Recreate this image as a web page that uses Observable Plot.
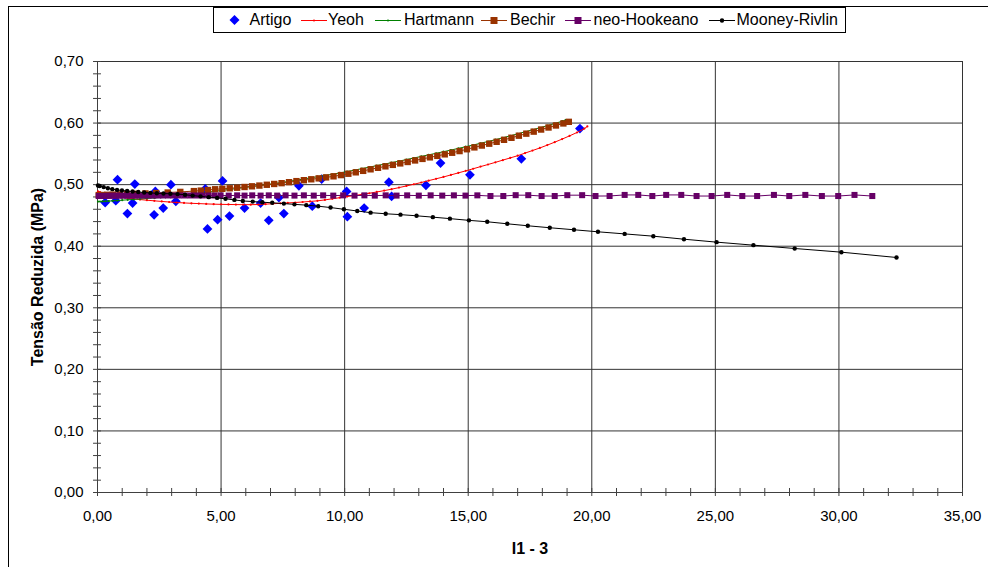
<!DOCTYPE html>
<html><head><meta charset="utf-8">
<script src="https://cdn.jsdelivr.net/npm/d3@7"></script>
<script src="https://cdn.jsdelivr.net/npm/@observablehq/plot@0.6"></script>
<style>
html,body{margin:0;padding:0;background:#fff;overflow:hidden;}
#wrap{position:relative;width:988px;height:567px;overflow:hidden;font-family:"Liberation Sans",Arial,sans-serif;background:#fff;}
#frame{position:absolute;left:8px;top:6px;width:1100px;height:700px;border:1px solid #000;box-sizing:border-box;}
#chart{position:absolute;left:0;top:0;}
#legend{position:absolute;left:213px;top:7px;width:633px;height:26px;border:1px solid #000;box-sizing:border-box;background:#fff;}
.item{position:absolute;top:0;height:24px;line-height:24px;font-size:16px;color:#000;white-space:nowrap;}
.sw{position:absolute;top:0;}
</style></head>
<body><div id="wrap"><div id="frame"></div><div id="chart"></div><div id="legend"></div></div>
<script>
// ---------- data ----------
const seriesNames = ["Artigo", "Yeoh", "Hartmann", "Bechir", "neo-Hookeano", "Mooney-Rivlin"];
const seriesColors = ["#0000ff", "#ff0000", "#008000", "#993300", "#660066", "#000000"];
const xTitle = "I1 - 3";
const yTitle = "Tensão Reduzida (MPa)";
const xTicks = [0, 5, 10, 15, 20, 25, 30, 35];
const yTicks = [0, 0.1, 0.2, 0.3, 0.4, 0.5, 0.6, 0.7];

const artigoX = [0.31, 0.74, 0.81, 1.21, 1.42, 1.51, 2.29, 2.34, 2.66, 2.97, 3.17, 4.36, 4.45, 4.86, 5.06, 5.34, 5.95, 6.60, 6.93, 7.34, 7.54, 8.15, 8.69, 9.07, 10.08, 10.11, 10.79, 11.79, 11.90, 13.29, 13.88, 15.07, 17.15, 19.52];
const artigoY = [0.471, 0.474, 0.508, 0.453, 0.470, 0.501, 0.451, 0.489, 0.462, 0.500, 0.473, 0.493, 0.428, 0.443, 0.506, 0.449, 0.462, 0.470, 0.442, 0.479, 0.453, 0.498, 0.465, 0.509, 0.489, 0.448, 0.462, 0.504, 0.481, 0.499, 0.535, 0.516, 0.542, 0.591];

const yeohX = [0.02, 0.10, 0.20, 0.32, 0.46, 0.62, 0.80, 1.00, 1.22, 1.46, 1.72, 2.00, 2.30, 2.60, 2.90, 3.20, 3.50, 3.80, 4.10, 4.40, 4.70, 5.00, 5.30, 5.60, 5.90, 6.20, 6.50, 6.80, 7.10, 7.40, 7.70, 8.00, 8.30, 8.60, 8.90, 9.20, 9.50, 9.80, 10.10, 10.40, 10.70, 11.00, 11.30, 11.60, 11.90, 12.20, 12.50, 12.80, 13.10, 13.40, 13.70, 14.00, 14.30, 14.60, 14.90, 15.20, 15.50, 15.80, 16.10, 16.40, 16.70, 17.00, 17.30, 17.60, 17.90, 18.20, 18.50, 18.80, 19.10, 19.40, 19.70, 19.82];
const yeohY = [0.4890, 0.4878, 0.4864, 0.4850, 0.4836, 0.4822, 0.4808, 0.4795, 0.4782, 0.4770, 0.4758, 0.4747, 0.4737, 0.4727, 0.4718, 0.4710, 0.4703, 0.4697, 0.4692, 0.4687, 0.4683, 0.4680, 0.4678, 0.4676, 0.4675, 0.4675, 0.4677, 0.4683, 0.4690, 0.4697, 0.4703, 0.4710, 0.4718, 0.4727, 0.4737, 0.4752, 0.4770, 0.4788, 0.4806, 0.4823, 0.4841, 0.4860, 0.4881, 0.4903, 0.4926, 0.4952, 0.4979, 0.5006, 0.5035, 0.5065, 0.5095, 0.5125, 0.5158, 0.5191, 0.5224, 0.5258, 0.5293, 0.5327, 0.5362, 0.5398, 0.5434, 0.5470, 0.5512, 0.5554, 0.5596, 0.5642, 0.5690, 0.5740, 0.5792, 0.5847, 0.5910, 0.5945];

const hartmannX = [0.02, 0.10, 0.20, 0.32, 0.46, 0.62, 0.80, 1.00, 1.22, 1.46, 1.72, 2.00, 2.30, 2.60, 2.90, 3.20, 3.50, 3.80, 4.10, 4.40, 4.70, 5.00, 5.30, 5.60, 5.90, 6.20, 6.50, 6.80, 7.10, 7.40, 7.70, 8.00, 8.30, 8.60, 8.90, 9.20, 9.50, 9.80, 10.10, 10.40, 10.70, 11.00, 11.30, 11.60, 11.90, 12.20, 12.50, 12.80, 13.10, 13.40, 13.70, 14.00, 14.30, 14.60, 14.90, 15.20, 15.50, 15.80, 16.10, 16.40, 16.70, 17.00, 17.30, 17.60, 17.90, 18.20, 18.50, 18.80, 18.94];
const hartmannY = [0.4725, 0.4726, 0.4728, 0.4730, 0.4733, 0.4737, 0.4742, 0.4748, 0.4754, 0.4760, 0.4767, 0.4775, 0.4785, 0.4795, 0.4806, 0.4818, 0.4832, 0.4846, 0.4860, 0.4874, 0.4889, 0.4905, 0.4920, 0.4935, 0.4950, 0.4966, 0.4982, 0.4999, 0.5016, 0.5033, 0.5051, 0.5070, 0.5089, 0.5109, 0.5129, 0.5148, 0.5168, 0.5190, 0.5212, 0.5236, 0.5260, 0.5285, 0.5309, 0.5333, 0.5357, 0.5382, 0.5407, 0.5433, 0.5458, 0.5484, 0.5509, 0.5535, 0.5562, 0.5589, 0.5616, 0.5644, 0.5672, 0.5701, 0.5730, 0.5761, 0.5793, 0.5825, 0.5858, 0.5891, 0.5924, 0.5958, 0.5993, 0.6030, 0.6050];

const bechirX = [0.05, 0.20, 0.39, 0.62, 0.89, 1.20, 1.55, 1.94, 2.37, 2.84, 3.35, 3.90, 4.18, 4.47, 4.76, 5.05, 5.35, 5.65, 5.95, 6.25, 6.55, 6.85, 7.15, 7.45, 7.75, 8.05, 8.35, 8.65, 8.95, 9.25, 9.55, 9.85, 10.15, 10.45, 10.75, 11.05, 11.35, 11.65, 11.95, 12.25, 12.55, 12.85, 13.15, 13.45, 13.75, 14.05, 14.35, 14.65, 14.95, 15.25, 15.55, 15.85, 16.15, 16.45, 16.75, 17.05, 17.35, 17.65, 17.95, 18.25, 18.55, 18.85, 19.07];
const bechirY = [0.4830, 0.4832, 0.4835, 0.4838, 0.4842, 0.4846, 0.4851, 0.4857, 0.4864, 0.4872, 0.4882, 0.4895, 0.4903, 0.4913, 0.4925, 0.4932, 0.4941, 0.4950, 0.4962, 0.4973, 0.4985, 0.4998, 0.5011, 0.5024, 0.5040, 0.5057, 0.5072, 0.5087, 0.5102, 0.5118, 0.5135, 0.5155, 0.5177, 0.5200, 0.5224, 0.5249, 0.5273, 0.5297, 0.5321, 0.5345, 0.5368, 0.5393, 0.5418, 0.5443, 0.5467, 0.5492, 0.5518, 0.5545, 0.5575, 0.5605, 0.5635, 0.5665, 0.5696, 0.5728, 0.5761, 0.5795, 0.5828, 0.5861, 0.5895, 0.5928, 0.5961, 0.5994, 0.6020];

const neoX = [0.05, 0.15, 0.26, 0.38, 0.50, 0.63, 0.76, 0.90, 1.05, 1.20, 1.36, 1.53, 1.70, 1.88, 2.06, 2.25, 2.45, 2.65, 2.86, 3.07, 3.29, 3.52, 3.75, 3.99, 4.23, 4.48, 4.73, 4.98, 5.31, 5.65, 5.95, 6.26, 6.60, 6.93, 7.27, 7.61, 7.97, 8.35, 8.75, 9.13, 9.54, 9.94, 10.40, 10.80, 11.22, 11.66, 12.10, 12.53, 13.00, 13.48, 13.95, 14.42, 14.89, 15.37, 15.90, 16.42, 16.92, 17.43, 17.97, 18.50, 19.01, 19.61, 20.15, 20.72, 21.33, 21.88, 22.45, 23.01, 23.62, 24.24, 24.85, 25.48, 26.09, 26.69, 27.37, 27.99, 28.64, 29.31, 29.97, 30.63, 31.35];
const neoY = [0.4815, 0.4816, 0.4817, 0.4818, 0.4819, 0.4820, 0.4820, 0.4821, 0.4821, 0.4822, 0.4822, 0.4822, 0.4823, 0.4823, 0.4823, 0.4823, 0.4823, 0.4824, 0.4824, 0.4824, 0.4824, 0.4824, 0.4824, 0.4824, 0.4824, 0.4824, 0.4824, 0.4826, 0.4822, 0.4826, 0.4822, 0.4826, 0.4822, 0.4826, 0.4822, 0.4826, 0.4822, 0.4826, 0.4822, 0.4826, 0.4822, 0.4826, 0.4822, 0.4826, 0.4822, 0.4826, 0.4822, 0.4826, 0.4822, 0.4826, 0.4822, 0.4826, 0.4822, 0.4826, 0.4815, 0.4815, 0.4829, 0.4829, 0.4815, 0.4815, 0.4829, 0.4829, 0.4815, 0.4816, 0.4833, 0.4833, 0.4815, 0.4833, 0.4833, 0.4815, 0.4815, 0.4833, 0.4815, 0.4815, 0.4833, 0.4815, 0.4833, 0.4815, 0.4815, 0.4833, 0.4815];

const mrX = [0.02, 0.09, 0.25, 0.42, 0.60, 0.79, 0.99, 1.20, 1.42, 1.65, 1.89, 2.14, 2.40, 2.67, 2.95, 3.24, 3.54, 3.85, 4.17, 4.50, 4.84, 5.18, 5.54, 5.88, 6.28, 6.67, 7.07, 7.54, 7.97, 8.45, 8.93, 9.43, 9.97, 10.51, 11.05, 11.66, 12.26, 12.91, 13.57, 14.26, 15.03, 15.77, 16.58, 17.41, 18.30, 19.28, 20.25, 21.33, 22.49, 23.73, 25.05, 26.54, 28.21, 30.10, 32.33];
const mrY = [0.4985, 0.4978, 0.4960, 0.4942, 0.4927, 0.4915, 0.4905, 0.4897, 0.4889, 0.4880, 0.4872, 0.4866, 0.4860, 0.4856, 0.4852, 0.4846, 0.4836, 0.4822, 0.4810, 0.4797, 0.4785, 0.4770, 0.4752, 0.4735, 0.4725, 0.4715, 0.4705, 0.4692, 0.4680, 0.4667, 0.4650, 0.4628, 0.4600, 0.4572, 0.4545, 0.4527, 0.4513, 0.4494, 0.4472, 0.4448, 0.4420, 0.4397, 0.4364, 0.4332, 0.4300, 0.4267, 0.4234, 0.4200, 0.4163, 0.4114, 0.4066, 0.4017, 0.3963, 0.3903, 0.3817];

// ---------- build ----------
const zip = (xs, ys) => xs.map((x, i) => ({x, y: ys[i]}));
const artigo = zip(artigoX, artigoY);
const yeoh = zip(yeohX, yeohY);
const hartmann = zip(hartmannX, hartmannY);
const bechir = zip(bechirX, bechirY);
const neo = zip(neoX, neoY);
const mr = zip(mrX, mrY);
const xMinor = d3.range(0, 36, 1);
const yMinor = d3.range(0, 0.701, 0.02);
const fmt = d => d.toFixed(2).replace(".", ",");
const C = seriesColors;

const chart = Plot.plot({
  width: 988, height: 567,
  marginLeft: 97, marginRight: 26, marginTop: 61, marginBottom: 75,
  x: {domain: [0, 35], axis: null},
  y: {domain: [0, 0.7], axis: null},
  style: {fontFamily: "'Liberation Sans', Arial, sans-serif", fontSize: "15px", background: "transparent", overflow: "visible", color: "#000"},
  marks: [
    Plot.ruleX(xTicks.slice(1), {stroke: "#333333", strokeWidth: 1}),
    Plot.ruleY(yTicks.slice(1), {stroke: "#333333", strokeWidth: 1}),
    Plot.ruleX(xMinor, {x: d => d, y1: -0.0065, y2: 0.0065, stroke: "#404040"}),
    Plot.ruleY(yMinor, {y: d => d, x1: -0.16, x2: 0.16, stroke: "#404040"}),
    Plot.ruleY([0], {stroke: "#404040"}),
    Plot.ruleX([0], {stroke: "#404040"}),
    Plot.text(xTicks, {x: d => d, y: 0, dy: 24, text: fmt, fill: "#000"}),
    Plot.text(yTicks, {x: 0, y: d => d, dx: -14, textAnchor: "end", text: fmt, fill: "#000"}),
    Plot.text([xTitle], {frameAnchor: "bottom", dy: 56, lineAnchor: "middle", textAnchor: "middle", fontWeight: "bold", fontSize: 16, fill: "#000"}),
    Plot.text([yTitle], {frameAnchor: "left", dx: -60, rotate: -90, lineAnchor: "middle", textAnchor: "middle", fontWeight: "bold", fontSize: 16, fill: "#000"}),
    // Artigo
    Plot.dot(artigo, {x: "x", y: "y", symbol: "diamond2", fill: C[0], r: 4.4}),
    // Yeoh
    Plot.line(yeoh, {x: "x", y: "y", stroke: C[1], strokeWidth: 1}),
    Plot.dot(yeoh, {x: "x", y: "y", fill: C[1], r: 1.1}),
    // Hartmann
    Plot.line(hartmann, {x: "x", y: "y", stroke: C[2], strokeWidth: 1}),
    Plot.dot(hartmann, {x: "x", y: "y", fill: C[2], r: 1.1}),
    // Bechir
    Plot.line(bechir, {x: "x", y: "y", stroke: C[3], strokeWidth: 1}),
    Plot.dot(bechir, {x: "x", y: "y", symbol: "square", fill: C[3], r: 3.6}),
    // neo-Hookeano
    Plot.line(neo, {x: "x", y: "y", stroke: C[4], strokeWidth: 1}),
    Plot.dot(neo, {x: "x", y: "y", symbol: "square", fill: C[4], r: 3.4}),
    // Mooney-Rivlin
    Plot.line(mr, {x: "x", y: "y", stroke: C[5], strokeWidth: 1}),
    Plot.dot(mr, {x: "x", y: "y", fill: C[5], r: 2.2})
  ]
});
document.getElementById("chart").appendChild(chart);

// ---------- legend ----------
const legend = document.getElementById("legend");
const L = 213;
const items = [
  {i: 0, sw: [228, 241], tx: 249.5, kind: "diamond"},
  {i: 1, sw: [300.5, 326.5], tx: 328, kind: "small"},
  {i: 2, sw: [375, 401], tx: 404, kind: "small"},
  {i: 3, sw: [481, 507], tx: 510, kind: "square"},
  {i: 4, sw: [565, 591], tx: 593.5, kind: "square"},
  {i: 5, sw: [708.5, 734.5], tx: 736.5, kind: "dot"}
];
const ns = "http://www.w3.org/2000/svg";
for (const it of items) {
  const w = it.sw[1] - it.sw[0];
  const svg = document.createElementNS(ns, "svg");
  svg.setAttribute("class", "sw");
  svg.setAttribute("width", w);
  svg.setAttribute("height", 24);
  svg.style.left = (it.sw[0] - L - 1) + "px";
  const col = seriesColors[it.i];
  const cy = 12, cx = w / 2;
  if (it.kind !== "diamond") {
    const ln = document.createElementNS(ns, "line");
    ln.setAttribute("x1", 0); ln.setAttribute("x2", w);
    ln.setAttribute("y1", cy + 0.5); ln.setAttribute("y2", cy + 0.5);
    ln.setAttribute("stroke", col); ln.setAttribute("stroke-width", 1);
    svg.appendChild(ln);
  }
  let m;
  if (it.kind === "diamond") {
    m = document.createElementNS(ns, "path");
    m.setAttribute("d", `M${cx},${cy - 5}L${cx + 5},${cy}L${cx},${cy + 5}L${cx - 5},${cy}Z`);
  } else if (it.kind === "square") {
    m = document.createElementNS(ns, "rect");
    m.setAttribute("x", cx - 3.5); m.setAttribute("y", cy - 3);
    m.setAttribute("width", 7); m.setAttribute("height", 7);
  } else {
    m = document.createElementNS(ns, "circle");
    m.setAttribute("cx", cx); m.setAttribute("cy", cy + 0.5);
    m.setAttribute("r", it.kind === "dot" ? 2.2 : 1.1);
  }
  m.setAttribute("fill", col);
  svg.appendChild(m);
  legend.appendChild(svg);
  const t = document.createElement("div");
  t.className = "item";
  t.style.left = (it.tx - L - 1) + "px";
  t.textContent = seriesNames[it.i];
  legend.appendChild(t);
}
</script>
</body></html>
